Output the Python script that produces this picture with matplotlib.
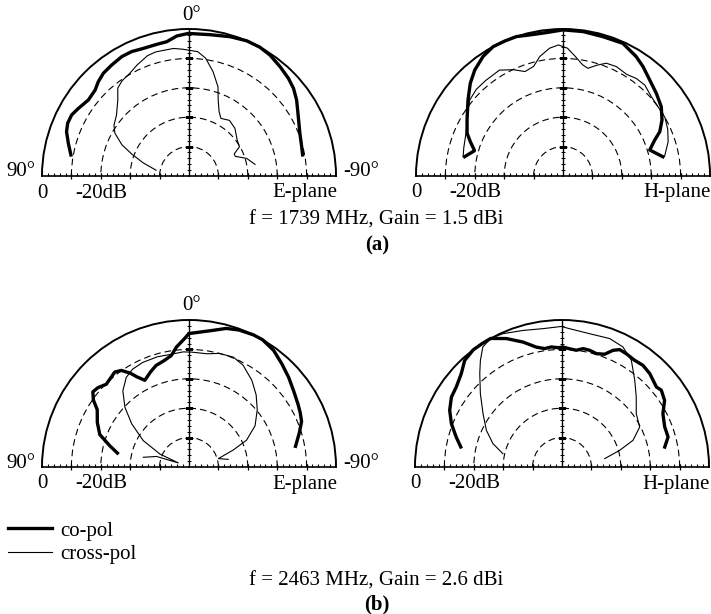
import numpy as np
import matplotlib
matplotlib.use('Agg')
import matplotlib.pyplot as plt
from matplotlib.lines import Line2D

# angles in degrees (0 = boresight, +90 on the left), levels in dB (0 = max)
a_co_t = [79.9, 74.9, 70.1, 66.5, 62.5, 58.6, 52.9, 47.5, 43.9, 39.8, 34.9, 29.4, 24.8, 19.7, 13.8, 9.4, 5, 0.3,
          -8.5, -16.4, -23.1, -28.8, -33.8, -39.8, -45.5, -50, -54.8, -61.5, -69, -75.4, -79.5]
a_co_r = [-9.2, -7.5, -5.7, -5, -5, -5.9, -7.1, -6.7, -5.5, -4.5, -4, -3.4, -3.4, -3.9, -3.9, -3.7, -2.2, -1.5,
          -1.4, -0.6, 0, 0, -0.5, -1.6, -2.6, -3.6, -5.2, -7.7, -9.6, -10.4, -10.7]
a_x_t = [80, 74, 69, 65, 60, 56, 50, 43, 39, 35, 30, 25, 19, 15, 7, 3, -4, -8, -13, -18, -21, -25, -29, -36,
         -44, -53, -60, -64, -67, -73, -80]
a_x_r = [-38.6, -33.8, -29.1, -24.8, -20.9, -19.2, -17.8, -14.5, -11.5, -10.4, -9.7, -8.3, -6.7, -6.3, -6.3,
         -6.8, -7.6, -9.5, -13.6, -18.1, -22.3, -25.8, -27.6, -26.6, -27.5, -29.5, -30.2, -32.9, -32.9, -29.5, -27.2]

b_co_t = [78.9, 74, 69.7, 66, 59.7, 51.3, 45, 39.8, 33.8, 28.4, 23.2, 18.5, 13.3, 6.6, 0, -7.9, -16, -24.3,
          -31.6, -36.2, -42.1, -48.5, -54.8, -60.5, -65.4, -68.6, -73.3, -79.1]
b_co_r = [-15.9, -18.7, -16.4, -14.3, -12.2, -8.6, -5.4, -3.1, -1.1, 0, 0, 0, -0.7, -0.9, -0.3, -0.4, -0.7,
          -0.5, -2.4, -3.9, -6, -7.6, -9.1, -11.3, -13.8, -16.5, -19.2, -15.4]
b_x_t = [79, 74, 66, 58, 51, 45, 39, 31, 25, 20, 15, 11, 6, 2, -2, -6, -10, -13, -17, -21, -26, -32, -37, -42,
         -48, -54, -60, -66, -72, -79]
b_x_r = [-15.4, -14.9, -13.9, -11.6, -9.1, -8.3, -8.2, -8, -10.1, -12.2, -11.4, -8.6, -6.3, -5.4, -6.5, -9.2,
         -11.6, -12.4, -10.6, -8.9, -8.6, -9.2, -8.5, -8.4, -9.6, -10, -10, -11, -12.4, -14.8]
b_x2_t = [23, 16, 8, 0, -8, -16, -24, -31]
b_x2_r = [0, 0, -0.1, -0.1, -0.2, -0.5, -0.3, -1.9]

c_co_t = [79, 75, 70, 64, 58, 55, 52, 49, 45, 41, 38, 35, 32, 30, 27, 22, 18, 13, 9, 6, 2, 0, -5, -10, -15,
          -20, -26, -30, -36, -42, -48, -54, -60, -64, -68, -73, -79]
c_co_r = [-25.2, -22.1, -17.7, -15.3, -13.2, -10.3, -8.5, -8.9, -10.2, -9.6, -9, -9.9, -12.4, -14.6, -16.9,
          -15.1, -13.7, -12.8, -11.6, -9, -6.3, -4.6, -3.9, -2.8, -1.2, -0.4, 0, 0, -1, -2.8, -4.4, -6, -7.2,
          -7.9, -8.7, -10.8, -13.1]
c_x_t = [78, 72, 69, 66, 60, 53, 47, 41, 35, 30, 24, 16, 10, 3, -1, -9, -15, -22, -28, -36, -43, -50, -58,
         -65, -69, -74, -79]
c_x_r = [-34.1, -38.4, -46.1, -39.2, -32, -25.6, -20.2, -15.7, -12.8, -11.6, -11.1, -11, -11.2, -10.8, -10.9,
         -11, -10, -9.7, -10.8, -13.6, -16.5, -19.7, -23.5, -28.4, -33.9, -39.6, -36.4]

d_co_t = [78.8, 74.2, 68.6, 63.2, 57.7, 52.9, 47.2, 42.4, 37.1, 32.7, 29, 23.4, 17.3, 12.1, 8.3, 5.1, 1.9,
          -0.5, -3.7, -7, -10.1, -13.3, -16.9, -20.7, -23.6, -26.2, -29.6, -34.3, -38.5, -43.2, -49.7, -52.3,
          -57, -62.2, -68.7, -74.2, -79]
d_co_r = [-14.9, -12.6, -9.6, -7.2, -5.5, -4.9, -3.3, -0.9, 0, 0, 0, -2.4, -5.5, -8.3, -9.3, -9, -9.4, -9.2,
          -9.7, -10, -9.1, -9.2, -9.7, -9, -6.7, -5.5, -5.7, -6.1, -5.8, -6.4, -7.9, -7.3, -8.4, -11.2, -12.5,
          -12.5, -14.4]
d_x_t = [77.3, 71.3, 64.1, 56, 48.1, 41.4, 37.4, 33.4, 29.1, 23.9, 15.9, 7.8, 0.3, -3.2, -11.7, -20.4, -26.9,
         -33, -40, -46.7, -54.3, -62.8, -69.4, -73.9, -78.9]
d_x_r = [-29.4, -25.2, -21.4, -17.6, -12.7, -7.7, -4.3, -1.1, 0, -0.4, -1.7, -2.5, -2.2, -2.9, -3.7, -3.4,
         -4.2, -6.7, -11.5, -15.3, -18.9, -20.3, -24.2, -29.6, -35.2]

planes = ['E-plane', 'H-plane', 'E-plane', 'H-plane']
captions = ['f = 1739 MHz, Gain = 1.5 dBi', 'f = 2463 MHz, Gain = 2.6 dBi']
rings = [-40, -30, -20, -10]

W, H = 711, 614
R = 147
plt.rcParams['font.family'] = ['Liberation Serif', 'DejaVu Serif']
fig = plt.figure(figsize=(7.11, 6.14), dpi=100)


def make_ax(cx, cy):
    # polar box is square, the half disc sits centred in it
    ax = fig.add_axes([(cx - R) / W, (H - cy - 0.5 * R) / H, 2 * R / W, 2 * R / H], projection='polar')
    ax.set_thetamin(-90)
    ax.set_thetamax(90)
    ax.set_theta_zero_location('N')
    ax.set_ylim(-50, 0)
    ax.set_rgrids(rings, labels=[])
    ax.yaxis.grid(True, color='k', lw=0.8, ls=(0, (6, 3.6)))
    ax.set_xticks(np.radians([0]))
    ax.set_xticks(np.radians(np.arange(-90, 91, 5)), minor=True)
    ax.xaxis.set_ticklabels([])
    ax.xaxis.grid(True, which='major', color='k', lw=1.0, ls='-')
    ax.tick_params(axis='x', which='both', direction='in', length=3, width=0.8)
    ax.tick_params(axis='y', length=0)
    for s in ax.spines.values():
        s.set_color('k')
    ax.spines['polar'].set_linewidth(1.4)
    ax.spines['start'].set_linewidth(1.2)
    ax.spines['end'].set_linewidth(1.2)
    # dB ticks along the baseline and the 0 deg line
    rmin = np.arange(-48, 0, 2)
    rmaj = np.array(rings)
    for t in (-90, 90):
        ax.plot(np.full(rmin.size, np.radians(t)), rmin, ls='none', marker=2, ms=2.2, mew=0.8, color='k', clip_on=False)
        ax.plot(np.full(rmaj.size, np.radians(t)), rmaj, ls='none', marker='|', ms=4.5, mew=0.9, color='k', clip_on=False)
    ax.plot(np.zeros(rmin.size), rmin, ls='none', marker='_', ms=2.6, mew=0.7, color='k')
    ax.plot(np.zeros(rmaj.size), rmaj, ls='none', marker='_', ms=6, mew=0.9, color='k')
    return ax


def lab(ax, s, th, r, dx, dy, **kw):
    ax.annotate(s, xy=(np.radians(th), r), xytext=(dx, dy), textcoords='offset pixels',
                fontsize=15, annotation_clip=False, **kw)


axes = [make_ax(189, 176), make_ax(563, 176), make_ax(189, 467), make_ax(562, 467)]
co = [(a_co_t, a_co_r), (b_co_t, b_co_r), (c_co_t, c_co_r), (d_co_t, d_co_r)]
xp = [(a_x_t, a_x_r), (b_x_t, b_x_r), (c_x_t, c_x_r), (d_x_t, d_x_r)]

for ax, nm, (tc, rc), (tx, rx) in zip(axes, planes, co, xp):
    ax.plot(np.radians(tc), rc, color='k', lw=2.4, clip_on=False)
    ax.plot(np.radians(tx), rx, color='k', lw=0.8, clip_on=False)
    lab(ax, '0', 90, 0, 0, -17, ha='center', va='center')
    lab(ax, '-20dB', 90, -20, 0, -17, ha='center', va='center')
    lab(ax, nm, -90, 0, 1, -17, ha='right', va='center')
axes[1].plot(np.radians(b_x2_t), b_x2_r, color='k', lw=0.8, clip_on=False)

for ax in (axes[0], axes[2]):
    lab(ax, '0°', 0, 0, 3, 14, ha='center', va='center')
    lab(ax, '90°', 90, 0, -7, 4, ha='right', va='center')
    lab(ax, '-90°', -90, 0, 7, 4, ha='left', va='center')

fig.text(376 / W, 1 - 220 / H, captions[0], ha='center', va='center', fontsize=15)
fig.text(377 / W, 1 - 245 / H, '(a)', ha='center', va='center', fontsize=15, fontweight='bold')
fig.text(376 / W, 1 - 581 / H, captions[1], ha='center', va='center', fontsize=15)
fig.text(377 / W, 1 - 604 / H, '(b)', ha='center', va='center', fontsize=15, fontweight='bold')

fig.legend(handles=[Line2D([], [], color='k', lw=2.4), Line2D([], [], color='k', lw=0.8)],
           labels=['co-pol', 'cross-pol'], loc='upper left', bbox_to_anchor=(8 / W, 1 - 521 / H),
           frameon=False, fontsize=15, handlelength=2.1, handletextpad=0.4, labelspacing=0.2,
           borderpad=0, borderaxespad=0)

fig.savefig('out.png', dpi=100)
